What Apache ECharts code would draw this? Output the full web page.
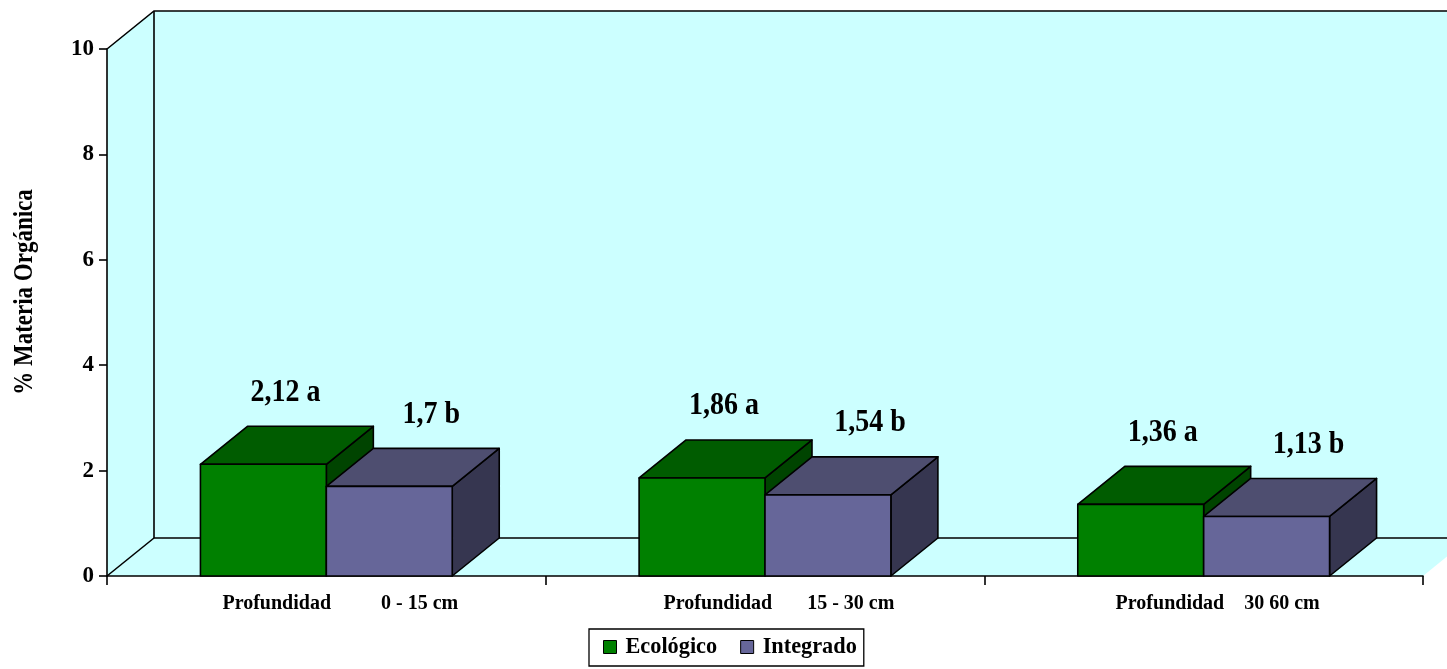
<!DOCTYPE html>
<html>
<head>
<meta charset="utf-8">
<script src="https://cdn.jsdelivr.net/npm/echarts@6/dist/echarts.min.js"></script>
<style>
html,body{margin:0;padding:0;background:#fff;}
#chart{width:1447px;height:669px;}
</style>
</head>
<body>
<div id="chart"></div>
<script>
// ---- data ----
const categories = ['Profundidad          0 - 15 cm', 'Profundidad       15 - 30 cm', 'Profundidad    30 60 cm'];
const seriesNames = ['Ecológico', 'Integrado'];
const ecologico = [2.12, 1.86, 1.36];
const integrado = [1.7, 1.54, 1.13];
const ecologicoLabels = ['2,12 a', '1,86 a', '1,36 a'];
const integradoLabels = ['1,7 b', '1,54 b', '1,13 b'];
const yMin = 0, yMax = 10, yInterval = 2;
const yTitle = '% Materia Orgánica';

// ---- styling ----
const FONT = '"Liberation Serif", "Times New Roman", serif';
const DX = 47, DY = -38;
const LINE = '#000';
const palette = [
  { front: '#008000', top: '#005c00', side: '#004400', labelDx: 22 },
  { front: '#666699', top: '#4e4e70', side: '#363650', labelDx: 42 }
];
const labelSets = [ecologicoLabels, integradoLabels];

function wallRender(params, api) {
  const cs = params.coordSys;
  const x0 = cs.x, x1 = cs.x + cs.width;
  const yTop = api.coord([0, yMax])[1];
  const yBot = api.coord([0, yMin])[1];
  const fill = '#ccffff';
  const lw = 1.6;
  return {
    type: 'group',
    silent: true,
    children: [
      { type: 'polygon', shape: { points: [[x0, yTop], [x0 + DX, yTop + DY], [x0 + DX, yBot + DY], [x0, yBot]] }, style: { fill: fill, stroke: null } },
      { type: 'polygon', shape: { points: [[x0 + DX, yTop + DY], [x1 + DX, yTop + DY], [x1 + DX, yBot + DY], [x0 + DX, yBot + DY]] }, style: { fill: fill, stroke: null } },
      { type: 'polygon', shape: { points: [[x0, yBot], [x1, yBot], [x1 + DX, yBot + DY], [x0 + DX, yBot + DY]] }, style: { fill: fill, stroke: null } },
      { type: 'polyline', shape: { points: [[x0, yTop], [x0 + DX, yTop + DY], [x1 + DX, yTop + DY]] }, style: { stroke: LINE, lineWidth: lw, fill: null } },
      { type: 'polyline', shape: { points: [[x0 + DX, yTop + DY], [x0 + DX, yBot + DY], [x1 + DX, yBot + DY]] }, style: { stroke: LINE, lineWidth: lw, fill: null } },
      { type: 'line', shape: { x1: x0, y1: yBot, x2: x0 + DX, y2: yBot + DY }, style: { stroke: LINE, lineWidth: lw } }
    ]
  };
}

function makeBarRender(si) {
  return function (params, api) {
    const cat = api.value(0), v = api.value(1);
    const c = api.coord([cat, v]);
    const base = api.coord([cat, yMin]);
    const band = api.size([1, 0])[0];
    const w = band * 0.287;
    const xl = si === 0 ? c[0] - w : c[0];
    const xr = xl + w;
    const yt = c[1], yb = base[1];
    const p = palette[si];
    const st = (f) => ({ fill: f, stroke: LINE, lineWidth: 1.6, lineJoin: 'round' });
    return {
      type: 'group',
      children: [
        { type: 'polygon', shape: { points: [[xr, yt], [xr + DX, yt + DY], [xr + DX, yb + DY], [xr, yb]] }, style: st(p.side) },
        { type: 'polygon', shape: { points: [[xl, yt], [xr, yt], [xr + DX, yt + DY], [xl + DX, yt + DY]] }, style: st(p.top) },
        { type: 'polygon', shape: { points: [[xl, yt], [xr, yt], [xr, yb], [xl, yb]] }, style: st(p.front) },
        { type: 'text', x: (xl + xr) / 2 + p.labelDx, y: yt + DY - 34, scaleY: 1.15,
          style: { text: labelSets[si][params.dataIndex], x: 0, y: 0, align: 'center', verticalAlign: 'middle', font: 'bold 28px ' + FONT, fill: '#000' } }
      ]
    };
  };
}

const chart = echarts.init(document.getElementById('chart'), null, { renderer: 'canvas' });
chart.setOption({
  backgroundColor: '#ffffff',
  animation: false,
  grid: { left: 107, right: 24, top: 49, bottom: 93, containLabel: false },
  legend: {
    data: seriesNames,
    left: 589, top: 629,
    orient: 'horizontal',
    padding: [7, 7, 8, 14],
    itemGap: 23,
    itemWidth: 13, itemHeight: 13,
    icon: 'rect',
    itemStyle: { borderColor: '#000', borderWidth: 1 },
    borderColor: '#000', borderWidth: 1.3,
    textStyle: { fontFamily: FONT, fontWeight: 'bold', fontSize: 22.3, color: '#000', padding: [0, 0, 0, 4] },
    selectedMode: false
  },
  graphic: [{
    type: 'text', x: 25, y: 292, rotation: Math.PI / 2, scaleY: 1.15,
    style: { text: yTitle, x: 0, y: 0, align: 'center', verticalAlign: 'middle', font: 'bold 23px ' + FONT, fill: '#000' }
  }],
  xAxis: {
    type: 'category', data: categories, boundaryGap: true,
    axisLine: { show: true, lineStyle: { color: LINE, width: 1.6 } },
    axisTick: { show: true, length: 9, lineStyle: { color: LINE, width: 1.6 } },
    axisLabel: { margin: 18, fontFamily: FONT, fontWeight: 'bold', fontSize: 20, color: '#000', padding: [0, 0, 0, 28], interval: 0 },
    splitLine: { show: false }
  },
  yAxis: {
    type: 'value', min: yMin, max: yMax, interval: yInterval,
    axisLine: { show: true, lineStyle: { color: LINE, width: 1.6 } },
    axisTick: { show: true, length: 8, lineStyle: { color: LINE, width: 1.6 } },
    axisLabel: { margin: 13, fontFamily: FONT, fontWeight: 'bold', fontSize: 23, color: '#000' },
    splitLine: { show: false }
  },
  series: [
    { type: 'custom', name: '_wall', renderItem: wallRender, data: [[0, 0]], z: 0, silent: true, tooltip: { show: false } },
    { type: 'custom', name: seriesNames[0], itemStyle: { color: palette[0].front }, renderItem: makeBarRender(0), data: ecologico.map((v, i) => [i, v]), z: 2 },
    { type: 'custom', name: seriesNames[1], itemStyle: { color: palette[1].front }, renderItem: makeBarRender(1), data: integrado.map((v, i) => [i, v]), z: 3 }
  ]
});
</script>
</body>
</html>
